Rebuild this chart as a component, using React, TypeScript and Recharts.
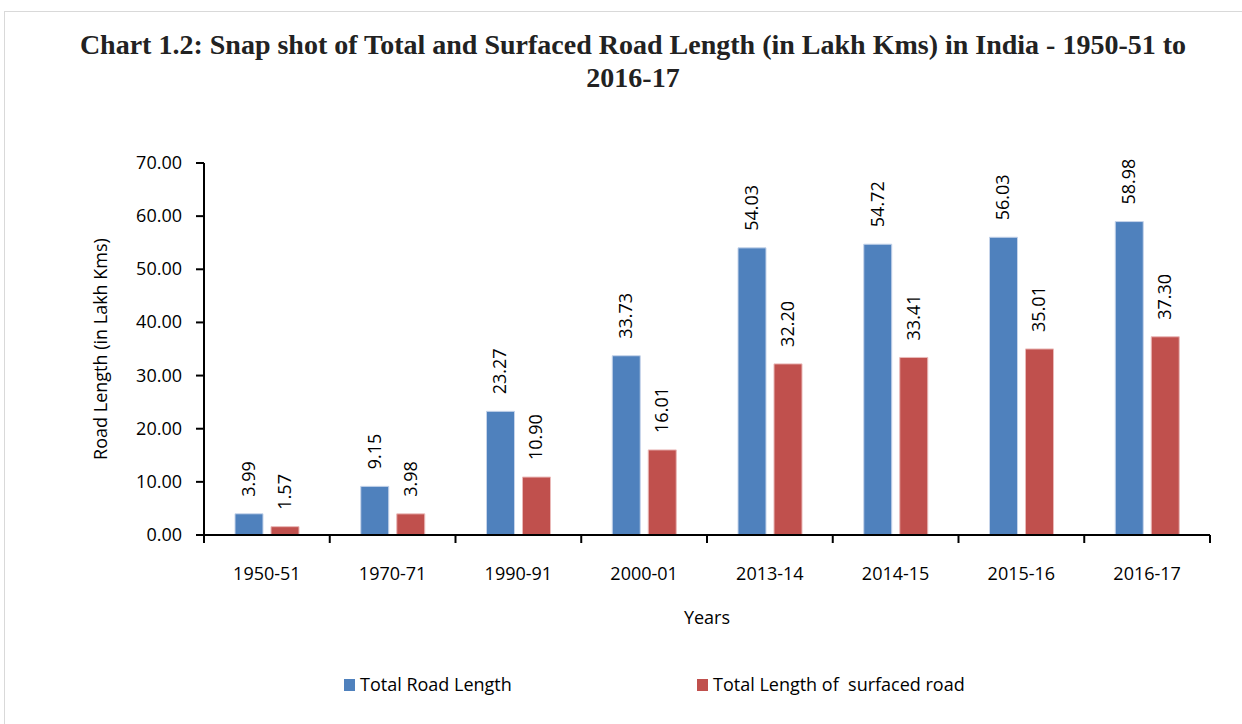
import React from 'react';
import { BarChart, Bar, XAxis, YAxis, LabelList } from 'recharts';

const years = ['1950-51', '1970-71', '1990-91', '2000-01', '2013-14', '2014-15', '2015-16', '2016-17'];
const totalRoad = [3.99, 9.15, 23.27, 33.73, 54.03, 54.72, 56.03, 58.98];
const surfacedRoad = [1.57, 3.98, 10.9, 16.01, 32.2, 33.41, 35.01, 37.3];
const yTicks = [0, 10, 20, 30, 40, 50, 60, 70];

const data = years.map((year, i) => ({
  year,
  total: totalRoad[i],
  surfaced: surfacedRoad[i]
}));

const W = 1242;
const H = 724;
const PLOT_LEFT = 204;
const PLOT_RIGHT = 1210;
const PLOT_TOP = 163;
const PLOT_BOTTOM = 535;
const BAND = (PLOT_RIGHT - PLOT_LEFT) / years.length;
const FONT = '"Open Sans", "Noto Sans", sans-serif';
const FS = 18;
const BLUE = '#4f81bd';
const RED = '#c0504d';

// category ticks sit on the band edges, labels in the middle
const XTick = (props: any) => {
  const { x, y, payload, index } = props;
  const left = x - BAND / 2;
  return (
    <g>
      <line x1={left} y1={y} x2={left} y2={y + 8} stroke="#000" strokeWidth={2} />
      {index === years.length - 1 && (
        <line x1={x + BAND / 2} y1={y} x2={x + BAND / 2} y2={y + 8} stroke="#000" strokeWidth={2} />
      )}
      <text x={x} y={y + 45} textAnchor="middle" fontFamily={FONT} fontSize={FS} fill="#000">
        {payload.value}
      </text>
    </g>
  );
};

const YTick = (props: any) => {
  const { x, y, payload } = props;
  return (
    <text x={x - 4} y={y} dy={6} textAnchor="end" fontFamily={FONT} fontSize={FS} fill="#000">
      {payload.value.toFixed(2)}
    </text>
  );
};

const ValueLabel = (props: any) => {
  const { x, y, width, value } = props;
  const cx = x + width / 2;
  const cy = y - 17;
  return (
    <text
      x={cx}
      y={cy}
      transform={`rotate(-90 ${cx} ${cy})`}
      textAnchor="start"
      dy={6}
      fontFamily={FONT}
      fontSize={FS}
      fill="#000"
    >
      {Number(value).toFixed(2)}
    </text>
  );
};

const legendItems = [
  { label: 'Total Road Length', color: BLUE, left: 344 },
  { label: 'Total Length of  surfaced road', color: RED, left: 697 }
];

export default function App() {
  return (
    <div style={{ position: 'absolute', left: 0, top: 0, width: W, height: H, background: '#fff', overflow: 'hidden' }}>
      <div
        style={{
          position: 'absolute',
          left: 4,
          top: 11,
          width: W,
          height: H,
          borderLeft: '1px solid #d9d9d9',
          borderTop: '1px solid #d9d9d9'
        }}
      />
      <div
        style={{
          position: 'absolute',
          left: 24,
          width: 1218,
          top: 28,
          textAlign: 'center',
          fontFamily: '"Liberation Serif", "Times New Roman", serif',
          fontWeight: 'bold',
          fontSize: 28,
          lineHeight: '33px',
          color: '#222'
        }}
      >
        Chart 1.2: Snap shot of Total and Surfaced Road Length (in Lakh Kms) in India - 1950-51 to
        <br />
        2016-17
      </div>
      <div style={{ position: 'absolute', left: 0, top: 0 }}>
        <BarChart
          width={W}
          height={H}
          data={data}
          margin={{ top: PLOT_TOP, right: W - PLOT_RIGHT, bottom: 0, left: 0 }}
          barSize={28}
          barGap={8}
        >
          <XAxis
            dataKey="year"
            axisLine={{ stroke: '#000', strokeWidth: 2 }}
            tickLine={false}
            tickSize={0}
            tickMargin={0}
            tick={<XTick />}
            interval={0}
            height={H - PLOT_BOTTOM}
            label={{ value: 'Years', position: 'insideTop', offset: 76, fontFamily: FONT, fontSize: FS, fill: '#000' }}
          />
          <YAxis
            width={PLOT_LEFT}
            domain={[0, 70]}
            ticks={yTicks}
            interval={0}
            axisLine={{ stroke: '#000', strokeWidth: 2 }}
            tickLine={{ stroke: '#000', strokeWidth: 2 }}
            tickSize={8}
            tickMargin={10}
            tick={<YTick />}
            label={{
              value: 'Road Length (in Lakh Kms)',
              angle: -90,
              position: 'insideLeft',
              offset: 0,
              dx: 101,
              fontFamily: FONT,
              fontSize: FS,
              fill: '#000',
              style: { textAnchor: 'middle' }
            }}
          />
          <Bar dataKey="total" name="Total Road Length" fill={BLUE} stroke="#c6d4ea" strokeWidth={1} isAnimationActive={false}>
            <LabelList dataKey="total" content={<ValueLabel />} />
          </Bar>
          <Bar dataKey="surfaced" name="Total Length of  surfaced road" fill={RED} stroke="#eab9b8" strokeWidth={1} isAnimationActive={false}>
            <LabelList dataKey="surfaced" content={<ValueLabel />} />
          </Bar>
        </BarChart>
      </div>
      {legendItems.map((item) => (
        <div key={item.label} style={{ position: 'absolute', left: item.left, top: 672, fontFamily: FONT, fontSize: FS, color: '#000', whiteSpace: 'pre' }}>
          <span style={{ position: 'absolute', left: 0, top: 7, width: 11, height: 12, background: item.color }} />
          <span style={{ position: 'absolute', left: 16, top: 0 }}>{item.label}</span>
        </div>
      ))}
    </div>
  );
}
